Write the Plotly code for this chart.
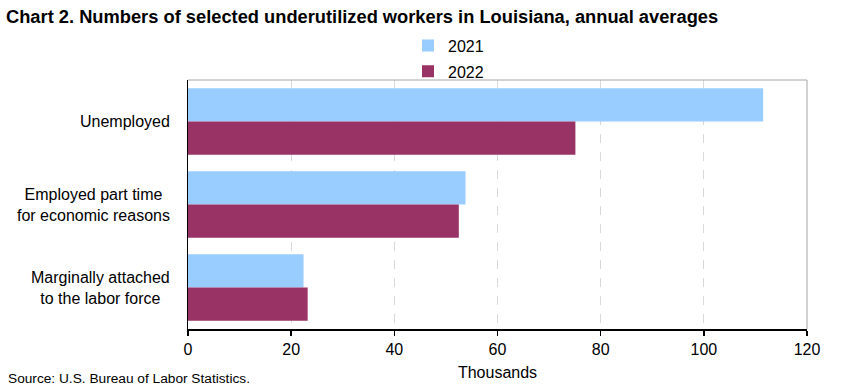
import plotly.graph_objects as go

categories = ["Unemployed", "Employed part time<br>for economic reasons", "Marginally attached<br>to the labor force"]
series_names = ["2021", "2022"]
values_2021 = [111.5, 53.8, 22.4]
values_2022 = [75.1, 52.5, 23.2]
colors = ["#99ccff", "#993366"]
x_ticks = [0, 20, 40, 60, 80, 100, 120]

FONT = "Liberation Sans, Arial, sans-serif"
W, H = 841, 391
ML, MR, MT, MB = 188, 34, 80, 59
PW, PH = W - ML - MR, H - MT - MB

fig = go.Figure()
for name, vals, col in zip(series_names, [values_2021, values_2022], colors):
    fig.add_trace(go.Bar(
        y=categories, x=vals, name=name, orientation="h",
        marker=dict(color=col, line=dict(width=0)),
        legendgroup=name,
    ))

fig.update_layout(
    width=W, height=H,
    margin=dict(l=ML, r=MR, t=MT, b=MB),
    paper_bgcolor="white", plot_bgcolor="white",
    font=dict(family=FONT, size=16, color="black"),
    barmode="group", bargap=0.2, bargroupgap=0,
    title=dict(text="<b>Chart 2. Numbers of selected underutilized workers in Louisiana, annual averages</b>",
               x=6 / W, xanchor="left", y=1 - 17 / H, yanchor="middle",
               font=dict(family=FONT, size=18.3, color="black")),
    legend=dict(orientation="v", x=(408 - ML) / PW, xanchor="left",
                y=(H - MB - 28) / PH, yanchor="top",
                font=dict(family=FONT, size=16), traceorder="grouped", tracegroupgap=2,
                itemwidth=30, bgcolor="rgba(0,0,0,0)", borderwidth=0),
    showlegend=True,
    hovermode=False,
)
fig.update_xaxes(
    range=[0, 120], tickvals=x_ticks, ticktext=[str(t) for t in x_ticks],
    showgrid=True, gridcolor="#d9d9d9", griddash="dash", gridwidth=1,
    showline=True, linecolor="black", linewidth=1.5,
    ticks="outside", ticklen=5, tickcolor="black", tickwidth=1.5,
    tickfont=dict(family=FONT, size=16), zeroline=False,
    title=dict(text="Thousands", font=dict(family=FONT, size=16), standoff=10),
)
fig.update_yaxes(
    autorange="reversed", showgrid=False, showticklabels=False,
    showline=True, linecolor="black", linewidth=1,
    ticks="",
)
# category labels: lines centred, block right-aligned next to the axis
for cat in categories:
    fig.add_annotation(text=cat, x=0, y=cat, xref="x", yref="y",
                       xanchor="right", yanchor="middle", align="center", xshift=-16,
                       showarrow=False, font=dict(family=FONT, size=16, color="black"))
# grey top and right border
fig.add_shape(type="line", xref="paper", yref="paper", x0=0, x1=1, y0=1, y1=1,
              line=dict(color="#a6a6a6", width=1))
fig.add_shape(type="line", xref="paper", yref="paper", x0=1, x1=1, y0=0, y1=1,
              line=dict(color="#a6a6a6", width=1))
fig.add_annotation(text="Source: U.S. Bureau of Labor Statistics.", xref="paper", yref="paper",
                   x=(6 - ML) / PW, y=0, yshift=-(381 - (H - MB)), xanchor="left", yanchor="middle",
                   showarrow=False, font=dict(family=FONT, size=13.7, color="black"))

fig.write_html("out.html", config={"displayModeBar": False, "staticPlot": True},
               post_script="document.body.style.margin='0';document.body.style.overflow='hidden';")
